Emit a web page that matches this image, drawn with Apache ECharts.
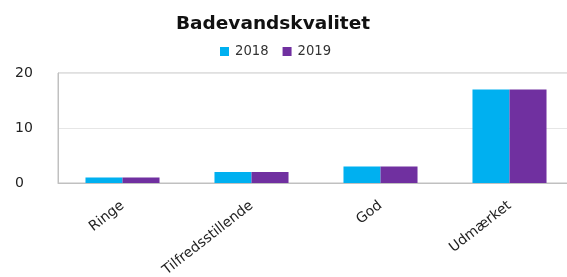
<!DOCTYPE html>
<html><head><meta charset="utf-8">
<script src="https://cdn.jsdelivr.net/npm/echarts@6/dist/echarts.min.js"></script>
<style>html,body{margin:0;padding:0;background:#fff}#c{width:567px;height:277px}</style>
</head><body><div id="c"></div>
<script>
const categories = ['Ringe', 'Tilfredsstillende', 'God', 'Udmærket'];
const values2018 = [1, 2, 3, 17];
const values2019 = [1, 2, 3, 17];
const yTicks = [0, 10, 20];

const chart = echarts.init(document.getElementById('c'));
const font = 'DejaVu Sans';
chart.setOption({
  animation: false,
  title: {
    text: 'Badevandskvalitet', left: 171, top: 10,
    textStyle: { fontFamily: font, fontSize: 18.5, fontWeight: 'bold', color: '#111' }
  },
  legend: {
    top: 40, left: 215, itemWidth: 9, itemHeight: 9, itemGap: 14,
    icon: 'rect',
    textStyle: { fontFamily: font, fontSize: 13.2, color: '#333', padding: [0,0,0,1] },
    data: ['2018', '2019']
  },
  grid: { left: 58, width: 516, top: 73, bottom: 94, outerBoundsMode: 'none', containLabel: false,
          show: true, borderColor: '#c0c0c0', borderWidth: 1 },
  xAxis: {
    type: 'category', data: categories,
    axisTick: { show: false },
    axisLine: { lineStyle: { color: '#c0c0c0' } },
    axisLabel: { rotate: 38, fontFamily: font, fontSize: 14, color: '#222', margin: 21, interval: 0 }
  },
  yAxis: {
    type: 'value', min: yTicks[0], max: yTicks[yTicks.length - 1], interval: 10,
    axisLine: { show: true, lineStyle: { color: '#c0c0c0' } },
    axisTick: { show: false },
    splitLine: { lineStyle: { color: '#e6e6e6' } },
    axisLabel: { fontFamily: font, fontSize: 14, color: '#222', align: 'left', margin: 43 }
  },
  series: [
    { name: '2018', type: 'bar', data: values2018, itemStyle: { color: '#00B0F0' }, barGap: '0%', barCategoryGap: '42.6%' },
    { name: '2019', type: 'bar', data: values2019, itemStyle: { color: '#7030A0' }, barGap: '0%', barCategoryGap: '42.6%' }
  ]
});
</script></body></html>
